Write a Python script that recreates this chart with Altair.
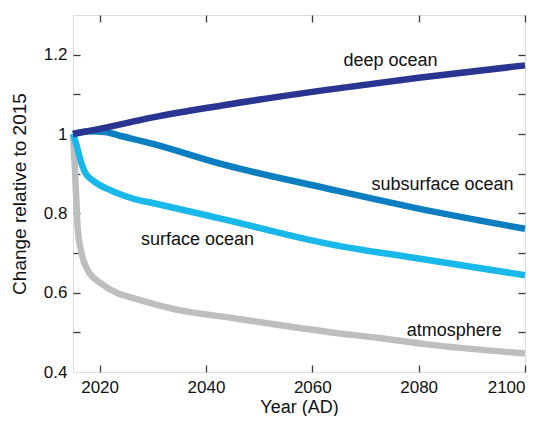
import altair as alt
import pandas as pd

# ---- data ----
series_names = ["atmosphere", "surface ocean", "subsurface ocean", "deep ocean"]
series_colors = ["#BCBEC0", "#19B8EA", "#0A7EC0", "#2B3591"]

atm_years = [2015, 2015.3, 2015.6, 2015.9, 2016.6, 2017.8, 2020.3, 2023.5, 2025.7,
             2035, 2044.5, 2054, 2063, 2073, 2082, 2100]
atm_vals = [1.0, 0.93, 0.84, 0.76, 0.70, 0.656, 0.623, 0.598, 0.589,
            0.556, 0.537, 0.518, 0.501, 0.485, 0.469, 0.447]

surf_years = [2015, 2015.5, 2016, 2016.5, 2017.2, 2018.8, 2021.6, 2026.6, 2030,
              2043, 2063, 2080, 2100]
surf_vals = [1.0, 0.98, 0.955, 0.93, 0.905, 0.882, 0.861, 0.836, 0.826,
             0.786, 0.723, 0.686, 0.644]

sub_years = [2015, 2018, 2021, 2024, 2030, 2043, 2063, 2080, 2100]
sub_vals = [1.0, 1.007, 1.005, 0.995, 0.975, 0.924, 0.862, 0.812, 0.761]

deep_years = [2015, 2020, 2030, 2043, 2062, 2080, 2100]
deep_vals = [1.0, 1.013, 1.042, 1.072, 1.11, 1.142, 1.173]

label_text = ["deep ocean", "subsurface ocean", "surface ocean", "atmosphere"]
label_x = [2074.7, 2084.5, 2038.4, 2086.7]
label_y = [1.183, 0.872, 0.733, 0.504]

x_ticks = [2020, 2040, 2060, 2080, 2100]
y_label_ticks = [0.4, 0.6, 0.8, 1.0, 1.2]
y_minor_ticks = [0.5, 0.6, 0.7, 0.8, 0.9, 1.0, 1.1, 1.2]

rows = []
for name, ys, vs in [("atmosphere", atm_years, atm_vals),
                     ("surface ocean", surf_years, surf_vals),
                     ("subsurface ocean", sub_years, sub_vals),
                     ("deep ocean", deep_years, deep_vals)]:
    for i, (y, v) in enumerate(zip(ys, vs)):
        rows.append({"year": y, "value": v, "series": name, "idx": i})
df = pd.DataFrame(rows)
labels_df = pd.DataFrame({"year": label_x, "value": label_y, "text": label_text})

FONT = "Liberation Sans"
TICK_COLOR = "#3a3a3a"

xscale = alt.Scale(domain=[2015, 2100], nice=False, zero=False)
yscale = alt.Scale(domain=[0.4, 1.3], nice=False, zero=False)

lines = alt.Chart(df).mark_line(strokeWidth=6.5, interpolate="monotone").encode(
    x=alt.X("year:Q", scale=xscale,
            axis=alt.Axis(orient="bottom", values=x_ticks, format="d", ticks=False, tickSize=0,
                          domain=False, grid=False, labelPadding=7, labelFontSize=17,
                          labelFont=FONT, labelColor="#111", title="Year (AD)",
                          titleFont=FONT, titleFontSize=18, titleFontWeight="normal",
                          titleColor="#111", titlePadding=3)),
    y=alt.Y("value:Q", scale=yscale,
            axis=alt.Axis(orient="left", values=y_label_ticks, format="~g", ticks=False, tickSize=0,
                          domain=False, grid=False, labelPadding=6, labelFontSize=17,
                          labelFont=FONT, labelColor="#111", title="Change relative to 2015",
                          titleFont=FONT, titleFontSize=19, titleFontWeight="normal",
                          titleColor="#111", titlePadding=14)),
    color=alt.Color("series:N", scale=alt.Scale(domain=series_names, range=series_colors),
                    legend=None),
    order=alt.Order("idx:Q"),
)

texts = alt.Chart(labels_df).mark_text(font=FONT, fontSize=18, color="#111",
                                       align="center", baseline="middle").encode(
    x=alt.X("year:Q", scale=xscale,
            axis=alt.Axis(orient="bottom", offset=-7, values=x_ticks, tickSize=7, labels=False,
                          domain=False, grid=False, title=None, tickColor=TICK_COLOR,
                          tickWidth=1.3)),
    y=alt.Y("value:Q", scale=yscale,
            axis=alt.Axis(orient="left", offset=-7, values=y_minor_ticks, tickSize=7, labels=False,
                          domain=False, grid=False, title=None, tickColor=TICK_COLOR,
                          tickWidth=1.3)),
    text="text:N",
)

ghost = alt.Chart(df).mark_line(opacity=0).encode(
    x=alt.X("year:Q", scale=xscale,
            axis=alt.Axis(orient="top", offset=-7, values=x_ticks, tickSize=7, labels=False,
                          domain=False, grid=False, title=None, tickColor=TICK_COLOR,
                          tickWidth=1.3)),
    y=alt.Y("value:Q", scale=yscale,
            axis=alt.Axis(orient="right", offset=-7, values=y_minor_ticks, tickSize=7, labels=False,
                          domain=False, grid=False, title=None, tickColor=TICK_COLOR,
                          tickWidth=1.3)),
    detail="series:N",
)

chart = alt.layer(ghost, lines, texts).resolve_axis(
    x="independent", y="independent"
).properties(
    width=452, height=357,
    autosize=alt.AutoSizeParams(type="none"),
    padding={"left": 65, "top": 7, "right": 14, "bottom": 44},
).configure_view(
    stroke="#333333", strokeWidth=1.5
).configure(background="white")

chart.save("out.html", embed_options={"renderer": "svg", "actions": False})
